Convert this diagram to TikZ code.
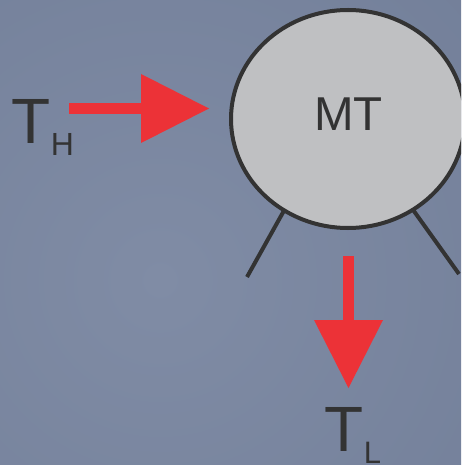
\documentclass[tikz,border=0pt]{standalone}
\usepackage{fontspec}
\setmainfont{Liberation Sans}
\usetikzlibrary{shapes.geometric,arrows.meta}
\definecolor{bginner}{HTML}{808CA5}
\definecolor{bgouter}{HTML}{687590}
\definecolor{ink}{HTML}{333333}
\definecolor{arrred}{HTML}{EC3237}
\definecolor{bodyfill}{HTML}{BFC0C2}
\tikzset{
  redarrow/.style={draw=arrred, line width=11pt, -{Triangle[length=68pt,width=69pt,line width=0pt]}},
  legline/.style={draw=ink, line width=4pt},
  bodyshape/.style={ellipse, draw=ink, fill=bodyfill, line width=4pt, inner sep=0pt, minimum width=234pt, minimum height=218pt},
  lbl/.style={inner sep=0pt, text=ink, anchor=base west}
}
\begin{document}
\begin{tikzpicture}[x=1pt,y=-1pt]
\useasboundingbox (0,0) rectangle (461,465);
\begin{scope}
\clip (0,0) rectangle (461,465);
\fill[bgouter] (0,0) rectangle (461,465);
\shade[inner color=bginner, outer color=bgouter] (160,280) circle (800);
% legs
\coordinate (l1) at (286,207);
\coordinate (l2) at (247,277);
\coordinate (r1) at (411,207);
\coordinate (r2) at (459,274);
\draw[legline] (l1) -- (l2);
\draw[legline] (r1) -- (r2);
\node[bodyshape] (MT) at (348,119) {};
\end{scope}
\node[lbl, anchor=base] (MTtext) at (348.5,131) {\fontsize{47.5}{47.5}\selectfont MT};
\node[lbl] (TH) at (11.5,143) {\fontsize{64}{64}\selectfont T\raisebox{-13pt}{\fontsize{32}{32}\selectfont H}};
\node[lbl] (TL) at (324.5,451.5) {\fontsize{64}{64}\selectfont T\raisebox{-11.5pt}{\fontsize{31}{31}\selectfont L}};
\coordinate (a1s) at (69,108.5);
\coordinate (a1e) at (209,108.5);
\coordinate (a2s) at (348.5,256);
\coordinate (a2e) at (348.5,388);
\draw[redarrow] (a1s) -- (a1e);
\draw[redarrow] (a2s) -- (a2e);
\end{tikzpicture}
\end{document}
